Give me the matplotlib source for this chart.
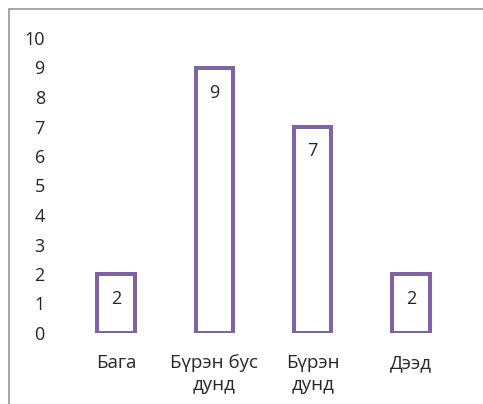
import matplotlib.pyplot as plt
from matplotlib.patches import Rectangle

categories = ['Бага', 'Бүрэн бус\nдунд', 'Бүрэн\nдунд', 'Дээд']
values = [2, 9, 7, 2]
yticks = list(range(0, 11))

plt.rcParams['font.family'] = ['Open Sans', 'DejaVu Sans']

fig = plt.figure(figsize=(4.83, 4.04), dpi=100)
ax = fig.add_axes([67 / 483, 1 - 333 / 404, 393 / 483, 295 / 404])

x = range(len(categories))
bars = ax.bar(x, values, width=0.38, color='white', edgecolor='#8064A2', linewidth=2.9)

for b, v in zip(bars, values):
    ax.annotate(str(v), (b.get_x() + b.get_width() / 2, v), xytext=(0, -18),
                textcoords='offset points', ha='center', va='center',
                fontsize=13, color='#262626')

ax.set_xlim(-0.5, 3.5)
ax.set_ylim(0, 10)
ax.set_yticks(yticks)
ax.set_xticks(list(x))
ax.set_xticklabels(categories, linespacing=1.3)
ax.tick_params(axis='y', length=0, pad=16, labelsize=13, labelcolor='#262626')
ax.tick_params(axis='x', length=0, pad=15, labelsize=13.5, labelcolor='#262626')
for s in ax.spines.values():
    s.set_visible(False)

# outer frame, cropped on the right and bottom like the reference
fig.patches.append(Rectangle((9 / 483, -0.1), 1.2, (404 - 9) / 404 + 0.1,
                             transform=fig.transFigure, fill=False,
                             edgecolor='#8c8c8c', linewidth=1.1))

fig.savefig('out.png', dpi=100)
